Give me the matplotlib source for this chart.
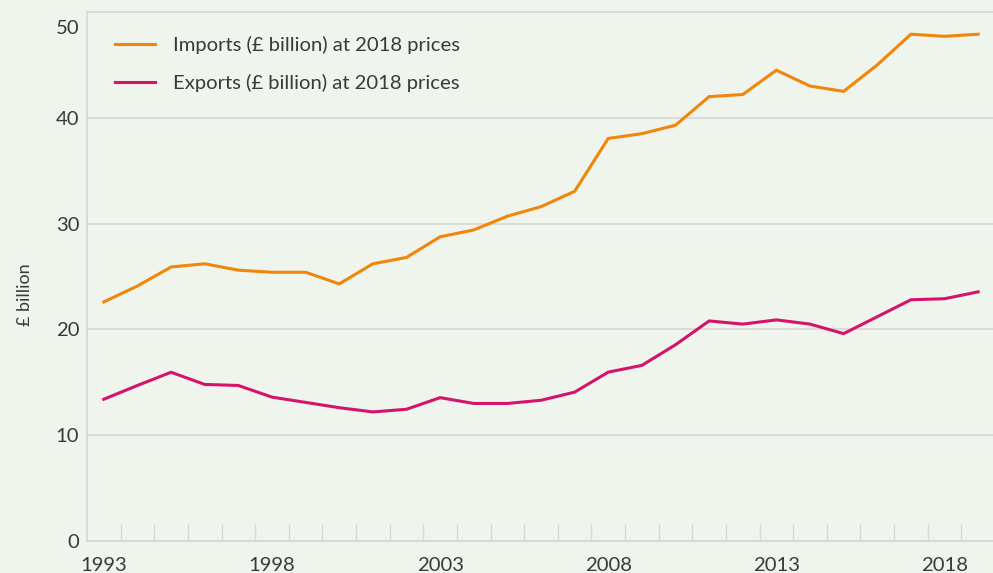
import matplotlib
matplotlib.use("Agg")
import matplotlib.pyplot as plt
import matplotlib.transforms as mtransforms
import numpy as np

years = list(range(1993, 2020))
imports = [22.6, 24.1, 25.9, 26.2, 25.6, 25.4, 25.4, 24.3, 26.2, 26.8,
           28.75, 29.4, 30.7, 31.6, 33.05, 38.05, 38.5, 39.3, 42.0, 42.2,
           44.5, 43.0, 42.5, 45.0, 47.9, 47.7, 47.9]
exports = [13.4, 14.7, 15.95, 14.8, 14.7, 13.6, 13.1, 12.6, 12.2, 12.45,
           13.55, 13.0, 13.0, 13.3, 14.07, 15.96, 16.6, 18.55, 20.8, 20.5,
           20.9, 20.5, 19.6, 21.2, 22.8, 22.9, 23.55]
label_years = [1993, 1998, 2003, 2008, 2013, 2018]
yticks = [0, 10, 20, 30, 40, 50]
series_labels = ["Imports (£ billion) at 2018 prices", "Exports (£ billion) at 2018 prices"]

plt.rcParams['font.family'] = ['Lato', 'DejaVu Sans']
bg = "#eff4ec"
txt = "#3a3a3a"
grid = "#d8d8d6"
fs = 14.6

fig = plt.figure(figsize=(9.93, 5.73), dpi=100, facecolor=bg)
ax = fig.add_axes([87/993, 1 - 541/573, 1 - 87/993 + 0.002, (541 - 12)/573])
ax.set_facecolor(bg)

ax.plot(years, imports, color="#f0860a", lw=2.2, label=series_labels[0], solid_joinstyle='miter')
ax.plot(years, exports, color="#d6136b", lw=2.2, label=series_labels[1], solid_joinstyle='miter')

ax.set_xlim(1992.5, 2019.5)
ax.set_ylim(0, 50)
ax.set_yticks(yticks)
ax.set_yticklabels([str(v) for v in yticks])
ax.yaxis.grid(True, color=grid, lw=1.2)
for gl in ax.get_ygridlines():
    gl.set_clip_on(False)
ax.set_axisbelow(True)
ax.tick_params(axis='y', length=0, pad=5.5, labelsize=fs, labelcolor=txt)

ax.set_xticks(label_years)
ax.set_xticklabels([str(y) for y in label_years])
ax.set_xticks(np.arange(1993.5, 2019, 1.0), minor=True)
ax.tick_params(axis='x', which='major', length=0, pad=11.5, labelsize=fs, labelcolor=txt)
ax.tick_params(axis='x', which='minor', direction='in', length=12, width=1, color=grid)

for s in ['top', 'right']:
    ax.spines[s].set_visible(False)
for s in ['left', 'bottom']:
    ax.spines[s].set_color(grid)
    ax.spines[s].set_linewidth(1.2)

# top tick label sits below its gridline
top_tick = ax.yaxis.get_major_ticks()[-1]
top_tick.label1.set_verticalalignment('top')
top_tick.label1.set_transform(top_tick.label1.get_transform() +
                              mtransforms.ScaledTranslation(0, -6/72, fig.dpi_scale_trans))
top_tick.gridline.set_clip_on(False)

ax.set_ylabel("£ billion", fontsize=13, color=txt)
ax.yaxis.set_label_coords(-0.059, 0.465)

leg = ax.legend(loc='upper left', bbox_to_anchor=(0.0105, 0.99), frameon=False,
                fontsize=fs, handlelength=2.0, handletextpad=0.85, labelspacing=1.0,
                labelcolor=txt)

fig.savefig("out.png", dpi=100, facecolor=bg)
